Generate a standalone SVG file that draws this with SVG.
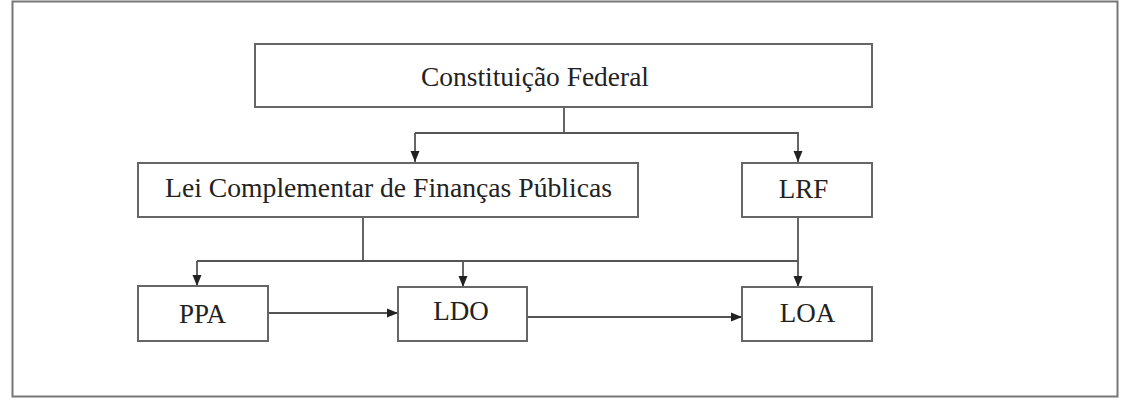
<svg xmlns="http://www.w3.org/2000/svg" width="1123" height="404" viewBox="0 0 1123 404">
<style>
.box{fill:#fff;stroke:#666;stroke-width:2}
.lbl{font-family:"Liberation Serif","Times New Roman",serif;font-size:27px;fill:#222}
.con{fill:none;stroke:#555;stroke-width:1.8}
.arr{marker-end:url(#ah)}
</style>
<defs>
<marker id="ah" markerUnits="userSpaceOnUse" markerWidth="12" markerHeight="12" viewBox="0 0 12 12" refX="11" refY="6" orient="auto">
<path d="M0,1.5 L11,6 L0,10.5 Z" fill="#222"/>
</marker>
</defs>
<rect x="12.5" y="1.5" width="1105" height="395" fill="#fff" stroke="#777" stroke-width="2"/>
<g id="connectors">
<path class="con" d="M564,107 V133 H415"/>
<path class="con arr" d="M415,133 V162"/>
<path class="con arr" d="M564,133 H798 V162"/>
<path class="con" d="M363,217 V261"/>
<path class="con" d="M197,261 H798"/>
<path class="con arr" d="M197,261 V286"/>
<path class="con arr" d="M463,261 V287"/>
<path class="con arr" d="M798,217 V287"/>
<path class="con arr" d="M268,313 H398"/>
<path class="con arr" d="M527,317 H742"/>
</g>
<g id="cf">
<rect class="box" x="255" y="44" width="617" height="63"/>
<text class="lbl" x="421" y="86" textLength="228" lengthAdjust="spacingAndGlyphs">Constituição Federal</text>
</g>
<g id="lcfp">
<rect class="box" x="138" y="163" width="500" height="54"/>
<text class="lbl" x="165" y="197" textLength="447" lengthAdjust="spacingAndGlyphs">Lei Complementar de Finanças Públicas</text>
</g>
<g id="lrf">
<rect class="box" x="742" y="163" width="130" height="54"/>
<text class="lbl" x="803.5" y="198" text-anchor="middle">LRF</text>
</g>
<g id="ppa">
<rect class="box" x="138" y="286" width="130" height="55"/>
<text class="lbl" x="202.5" y="323" text-anchor="middle">PPA</text>
</g>
<g id="ldo">
<rect class="box" x="398" y="287" width="129" height="54"/>
<text class="lbl" x="461" y="320" text-anchor="middle">LDO</text>
</g>
<g id="loa">
<rect class="box" x="742" y="287" width="130" height="54"/>
<text class="lbl" x="807.5" y="322" text-anchor="middle">LOA</text>
</g>
</svg>
